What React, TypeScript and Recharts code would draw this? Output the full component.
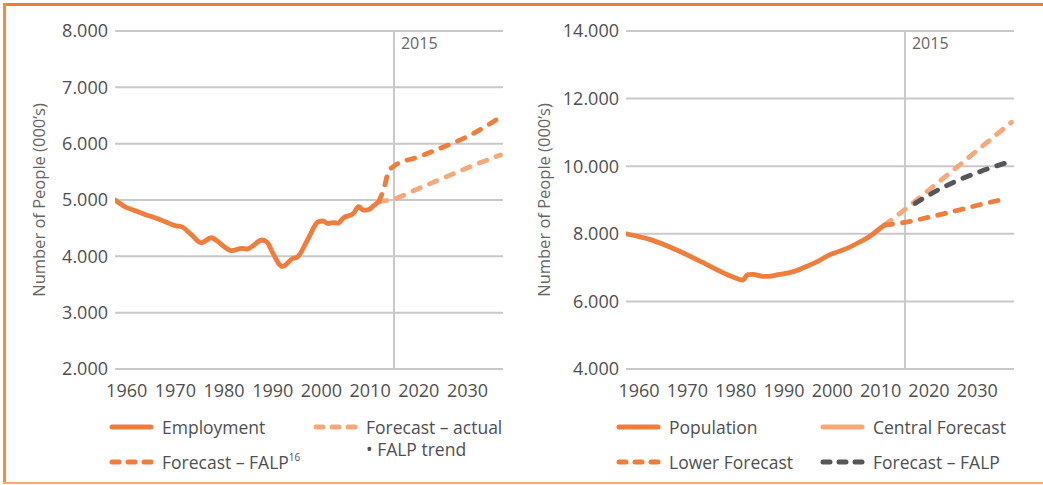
import React from "react";
import { LineChart, Line, XAxis, YAxis, CartesianGrid, ReferenceLine } from "recharts";

const FONT = '"Open Sans", sans-serif';
const ORANGE = "#EF7D3B";
const LIGHT = "#F7A878";
const DARK = "#56565A";
const GRID = "#C9C9C9";
const TEXT = "#4F4F4F";

const decades = [1960, 1970, 1980, 1990, 2000, 2010, 2020, 2030];

// left panel: employment (000's)
const employmentYears = [1960, 1962, 1964, 1966, 1968, 1970, 1972, 1973, 1975, 1977, 1979, 1980, 1982, 1983, 1985, 1986, 1989, 1990, 1991, 1993, 1995, 1996, 1998, 2000, 2001, 2002, 2003, 2004, 2005, 2007, 2008, 2009, 2010, 2011, 2012];
const employmentValues = [5000, 4880, 4810, 4740, 4680, 4610, 4540, 4530, 4390, 4240, 4330, 4280, 4140, 4100, 4140, 4130, 4290, 4250, 4080, 3820, 3960, 3990, 4300, 4610, 4630, 4580, 4600, 4590, 4680, 4760, 4880, 4820, 4830, 4900, 4970];
const empFalpYears = [2012, 2013, 2014, 2015, 2020, 2025, 2030, 2036];
const empFalpValues = [4970, 5200, 5520, 5600, 5770, 5950, 6150, 6470];
const empTrendYears = [2012, 2015, 2020, 2025, 2030, 2036];
const empTrendValues = [4970, 5020, 5210, 5400, 5590, 5800];

// right panel: population (000's)
const populationYears = [1960, 1965, 1970, 1975, 1980, 1982, 1983, 1984, 1985, 1987, 1988, 1990, 1993, 1996, 1998, 2000, 2002, 2004, 2006, 2008, 2010, 2011];
const populationValues = [8000, 7820, 7520, 7160, 6790, 6670, 6630, 6790, 6800, 6740, 6740, 6790, 6880, 7060, 7200, 7370, 7480, 7600, 7750, 7920, 8150, 8260];
const centralYears = [2011, 2015, 2020, 2025, 2030, 2036];
const centralValues = [8260, 8720, 9330, 9940, 10560, 11300];
const lowerYears = [2011, 2015, 2020, 2025, 2030, 2035];
const lowerValues = [8260, 8340, 8500, 8680, 8870, 9040];
const popFalpYears = [2017, 2020, 2025, 2030, 2036];
const popFalpValues = [8900, 9170, 9550, 9850, 10150];

const leftTicks = [2000, 3000, 4000, 5000, 6000, 7000, 8000];
const rightTicks = [4000, 6000, 8000, 10000, 12000, 14000];

const toSeries = (years: number[], values: number[]) =>
  years.map((year, i) => ({ year, value: values[i] }));

// empty rows so the label axis has something to hang its ticks on
const decadeRows = decades.map((year) => ({ year, value: null }));

const fmt = (v: number) => `${Math.floor(v / 1000)}.${String(v % 1000).padStart(3, "0")}`;

type Series = { name: string; data: { year: number; value: number }[]; color: string; dashed: boolean };

function Panel({
  left,
  width,
  axisWidth,
  rightMargin,
  yDomain,
  yTicks,
  labelDomain,
  labelOffset,
  series,
}: {
  left: number;
  width: number;
  axisWidth: number;
  rightMargin: number;
  yDomain: [number, number];
  yTicks: number[];
  labelDomain: [number, number];
  labelOffset: number;
  series: Series[];
}) {
  return (
    <div style={{ position: "absolute", left, top: 0 }}>
      <LineChart width={width} height={485} margin={{ top: 31, right: rightMargin, left: 0, bottom: 86 }}>
        <CartesianGrid xAxisId="data" horizontal vertical={false} stroke={GRID} strokeWidth={2} />
        <XAxis
          xAxisId="lbl"
          dataKey="year"
          type="number"
          domain={labelDomain}
          ticks={decades}
          interval={0}
          allowDataOverflow
          axisLine={false}
          tickLine={false}
          tickSize={0}
          tickMargin={15}
          height={30}
          tick={{ fill: TEXT, fontSize: 18, fontFamily: FONT }}
        />
        <XAxis xAxisId="data" dataKey="year" type="number" domain={[1960, 2036.5]} hide height={0} allowDataOverflow />
        <YAxis
          type="number"
          domain={yDomain}
          ticks={yTicks}
          interval={0}
          width={axisWidth}
          axisLine={false}
          tickLine={false}
          tickSize={0}
          tickMargin={7}
          tickFormatter={fmt}
          tick={{ fill: TEXT, fontSize: 18, fontFamily: FONT }}
          label={{
            value: "Number of People (000’s)",
            angle: -90,
            position: "insideLeft",
            offset: labelOffset,
            style: { textAnchor: "middle", fill: "#666", fontSize: 16.5, fontFamily: FONT },
          }}
        />
        <ReferenceLine
          xAxisId="data"
          x={2015}
          stroke={GRID}
          strokeWidth={2}
          label={{ value: "2015", position: "insideTopLeft", offset: 7, fill: "#666", fontSize: 16, fontFamily: FONT }}
        />
        <Line
          xAxisId="lbl"
          data={decadeRows}
          dataKey="value"
          stroke="none"
          dot={false}
          activeDot={false}
          legendType="none"
          isAnimationActive={false}
        />
        {series.map((s) => (
          <Line
            key={s.name}
            xAxisId="data"
            data={s.data}
            dataKey="value"
            name={s.name}
            type="monotone"
            stroke={s.color}
            strokeWidth={4.8}
            strokeLinecap="round"
            strokeDasharray={s.dashed ? "8 10" : undefined}
            dot={false}
            activeDot={false}
            isAnimationActive={false}
          />
        ))}
      </LineChart>
    </div>
  );
}

function Swatch({ color, dashed }: { color: string; dashed: boolean }) {
  return (
    <svg width={46} height={8} style={{ marginRight: 7, flexShrink: 0 }}>
      <line
        x1={3}
        x2={42}
        y1={4}
        y2={4}
        stroke={color}
        strokeWidth={5}
        strokeLinecap="round"
        strokeDasharray={dashed ? "7 9" : undefined}
      />
    </svg>
  );
}

function LegendItem({ x, y, color, dashed, children }: { x: number; y: number; color: string; dashed: boolean; children: React.ReactNode }) {
  return (
    <div
      style={{
        position: "absolute",
        left: x,
        top: y - 11,
        height: 22,
        display: "flex",
        alignItems: "center",
        fontFamily: FONT,
        fontSize: 17.5,
        color: TEXT,
        whiteSpace: "nowrap",
      }}
    >
      <Swatch color={color} dashed={dashed} />
      <span>{children}</span>
    </div>
  );
}

export default function App() {
  const leftSeries: Series[] = [
    { name: "Forecast – actual • FALP trend", data: toSeries(empTrendYears, empTrendValues), color: LIGHT, dashed: true },
    { name: "Forecast – FALP", data: toSeries(empFalpYears, empFalpValues), color: ORANGE, dashed: true },
    { name: "Employment", data: toSeries(employmentYears, employmentValues), color: ORANGE, dashed: false },
  ];
  const rightSeries: Series[] = [
    { name: "Central Forecast", data: toSeries(centralYears, centralValues), color: LIGHT, dashed: true },
    { name: "Lower Forecast", data: toSeries(lowerYears, lowerValues), color: ORANGE, dashed: true },
    { name: "Forecast – FALP", data: toSeries(popFalpYears, popFalpValues), color: DARK, dashed: true },
    { name: "Population", data: toSeries(populationYears, populationValues), color: ORANGE, dashed: false },
  ];

  return (
    <div style={{ position: "absolute", left: 0, top: 0, width: 1043, height: 485, background: "#fff", overflow: "hidden" }}>
      <div style={{ position: "absolute", left: 3, top: 3, width: 1040, height: 3, background: "#F47C30" }} />
      <div style={{ position: "absolute", left: 3, top: 3, width: 3, height: 480, background: "#F68A45" }} />
      <div style={{ position: "absolute", left: 3, top: 482, width: 1040, height: 2, background: "#F9A878" }} />

      <Panel
        left={0}
        width={520}
        axisWidth={115}
        rightMargin={17}
        yDomain={[2000, 8000]}
        yTicks={leftTicks}
        labelDomain={[1957.6, 2037.3]}
        labelOffset={39}
        series={leftSeries}
      />
      <Panel
        left={520}
        width={523}
        axisWidth={106}
        rightMargin={29}
        yDomain={[4000, 14000]}
        yTicks={rightTicks}
        labelDomain={[1957.3, 2037.6]}
        labelOffset={24.5}
        series={rightSeries}
      />

      <LegendItem x={109} y={427} color={ORANGE} dashed={false}>Employment</LegendItem>
      <LegendItem x={313} y={427} color={LIGHT} dashed>Forecast – actual</LegendItem>
      <div style={{ position: "absolute", left: 366, top: 438, height: 22, fontFamily: FONT, fontSize: 17.5, color: TEXT, whiteSpace: "nowrap", lineHeight: "22px" }}>
        • FALP trend
      </div>
      <LegendItem x={109} y={462} color={ORANGE} dashed>
        Forecast – FALP<sup style={{ fontSize: 10, verticalAlign: "top", lineHeight: "14px" }}>16</sup>
      </LegendItem>

      <LegendItem x={616} y={427} color={ORANGE} dashed={false}>Population</LegendItem>
      <LegendItem x={820} y={427} color={LIGHT} dashed={false}>Central Forecast</LegendItem>
      <LegendItem x={616} y={462} color={ORANGE} dashed>Lower Forecast</LegendItem>
      <LegendItem x={820} y={462} color={DARK} dashed>Forecast – FALP</LegendItem>
    </div>
  );
}
